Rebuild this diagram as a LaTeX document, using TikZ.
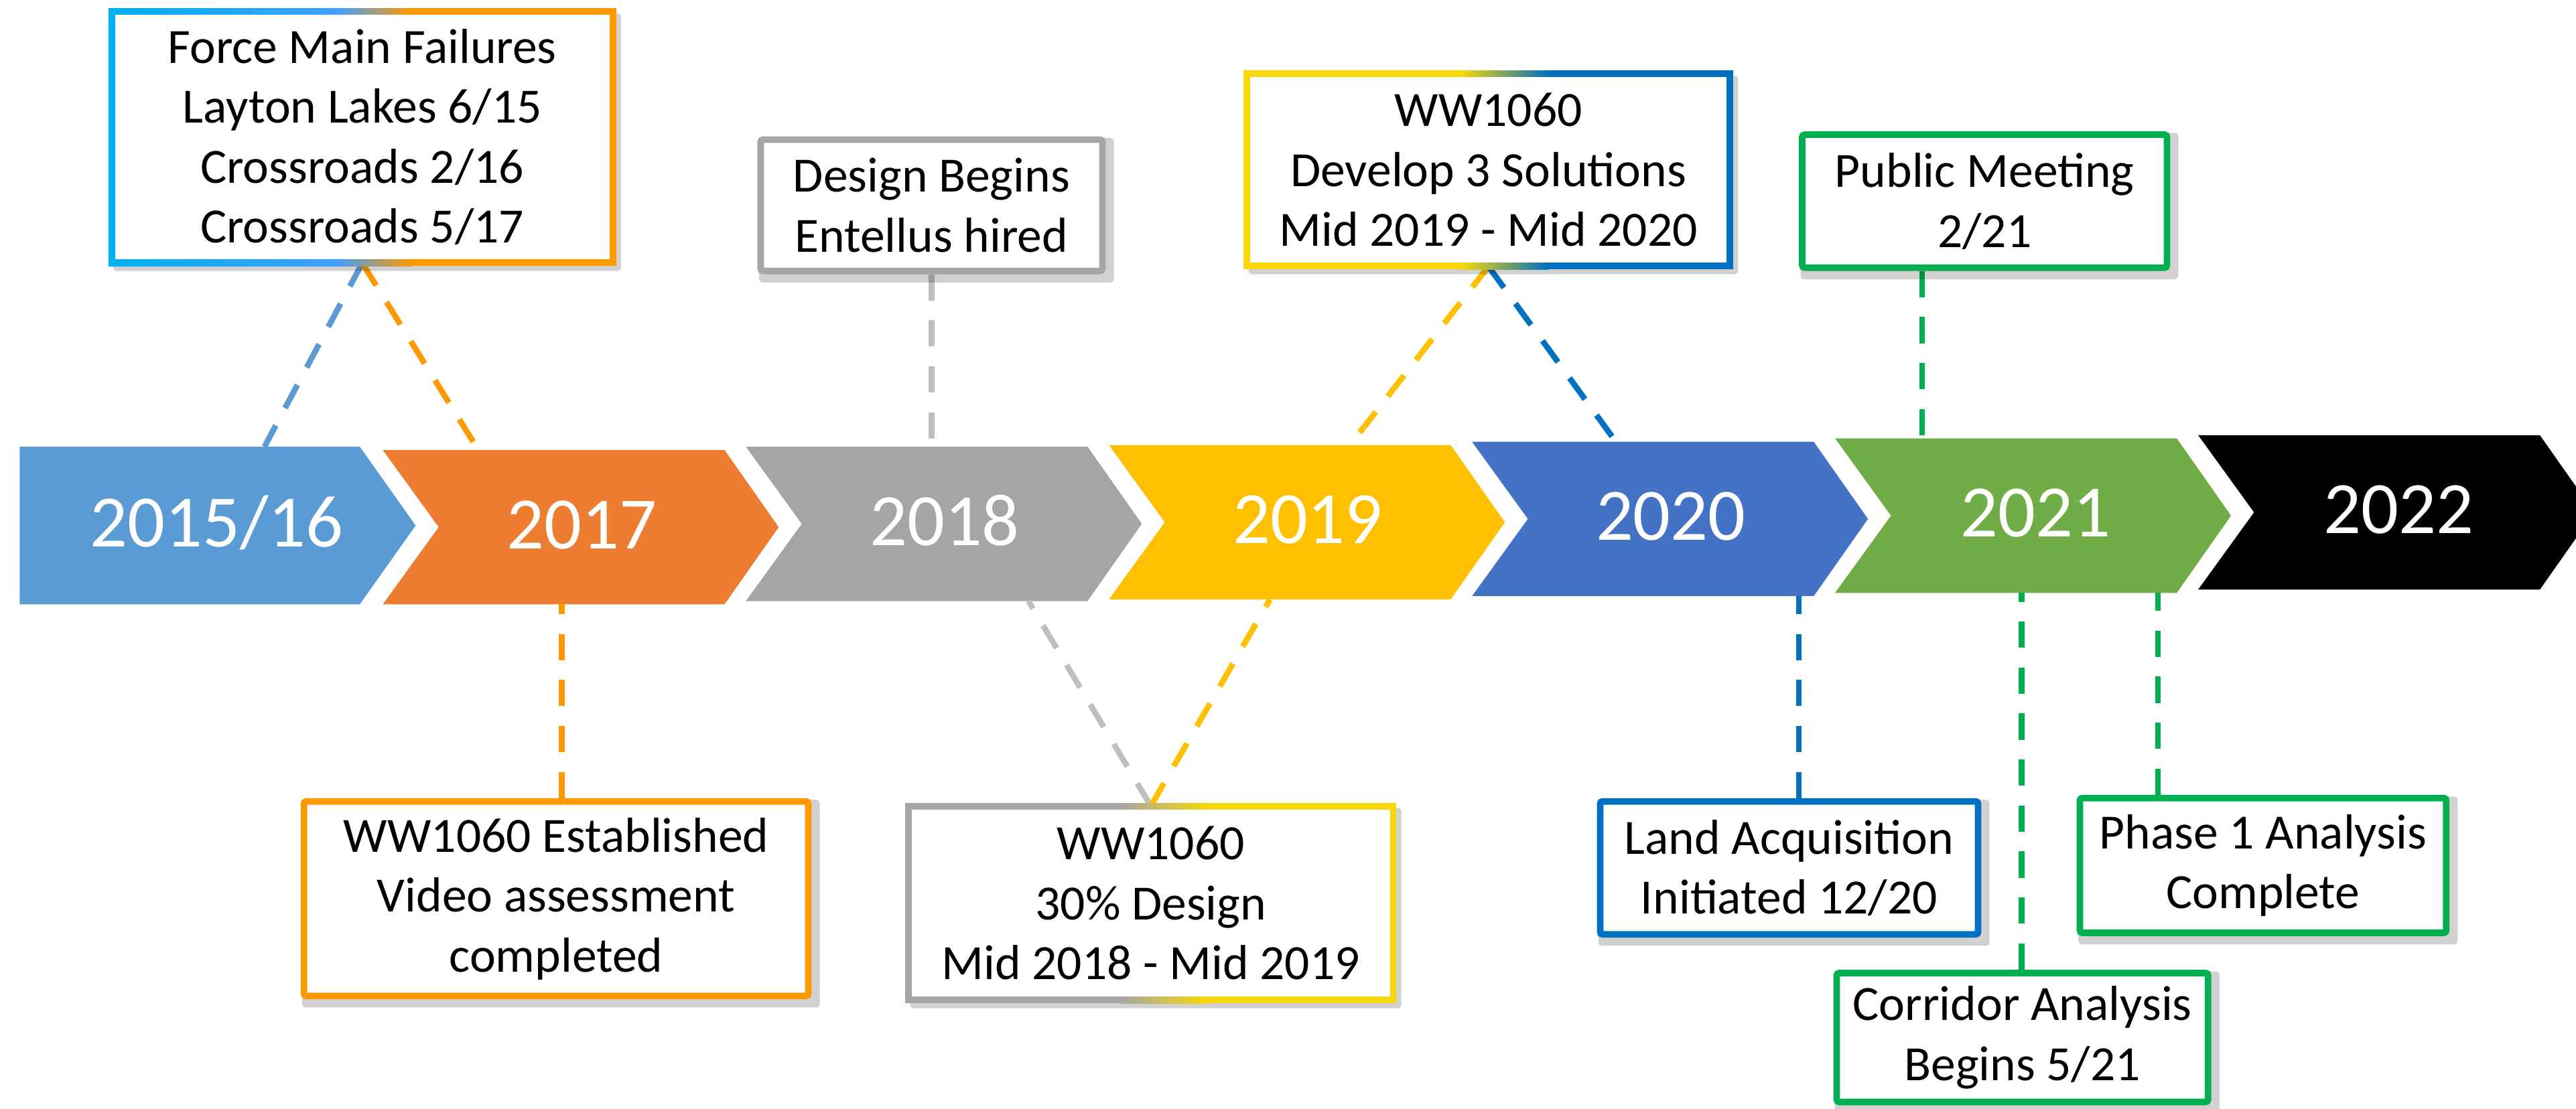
\documentclass[tikz,border=0pt]{standalone}
\usepackage{fontspec}
\setmainfont{Carlito}
\usetikzlibrary{calc}
\pgfdeclarelayer{bg}
\pgfdeclarelayer{conn}
\pgfdeclarelayer{frame}
\pgfsetlayers{bg,conn,frame,main}

\definecolor{chBlue}{HTML}{5B9BD5}
\definecolor{chOrange}{HTML}{ED7D31}
\definecolor{chGray}{HTML}{A5A5A5}
\definecolor{chYellow}{HTML}{FFC000}
\definecolor{chBlueB}{HTML}{4472C4}
\definecolor{chGreen}{HTML}{70AD47}
\definecolor{bxOrange}{HTML}{FF9900}
\definecolor{bxGray}{HTML}{A6A6A6}
\definecolor{bxYellow}{HTML}{F7D708}
\definecolor{bxBlue}{HTML}{0070C0}
\definecolor{bxGreen}{HTML}{00B050}
\definecolor{bxCyan}{HTML}{00B0F0}
\definecolor{bxSky}{HTML}{40A0FF}
\definecolor{lnGray}{HTML}{BFBFBF}

\tikzset{
  yeartext/.style={text=white, font=\fontsize{45}{54}\selectfont, anchor=base, inner sep=0pt},
  evbox/.style={align=center, font=\fontsize{30}{36.5}\selectfont, inner sep=0pt, fill=white, line width=4pt, rounded corners=1.5pt},
  gbox/.style={align=center, font=\fontsize{30}{36.5}\selectfont, inner sep=0pt},
  dashlink/.style={line width=3.5pt, dash pattern=on 16pt off 12pt},
  shadowbox/.style={fill=black, opacity=0.18, rounded corners=2pt},
}

\begin{document}
\begin{tikzpicture}[x=1pt,y=-1pt]
\useasboundingbox (0,0) rectangle (1568,675);

% ---------- chevrons ----------
\begin{pgfonlayer}{bg}
\fill[chBlue] (12,272) -- (219,272) -- (253,320) -- (219,368) -- (12,368) -- cycle;
\foreach \L/\T/\B/\c in {233/274/368/chOrange, 454/272/366/chGray, 675/271/365/chYellow, 896/269/363/chBlueB, 1117/267/361/chGreen}
  \fill[\c] (\L,\T) -- ({\L+208},\T) -- ({\L+241},{(\T+\B)/2}) -- ({\L+208},\B) -- (\L,\B) -- ({\L+34},{(\T+\B)/2}) -- cycle;
\fill[black] (1338,265) -- (1546,265) -- (1568,296.3) -- (1568,327.7) -- (1546,359) -- (1338,359) -- (1372,312) -- cycle;
\end{pgfonlayer}

\node[yeartext] (y1516) at (132,333) {2015/16};
\node[yeartext] (y2017) at (354,334) {2017};
\node[yeartext] (y2018) at (575,332) {2018};
\node[yeartext] (y2019) at (796,331) {2019};
\node[yeartext] (y2020) at (1017,329) {2020};
\node[yeartext] (y2021) at (1239,327) {2021};
\node[yeartext] (y2022) at (1460,325) {2022};

% ---------- event boxes ----------
\node[gbox, minimum width=305pt, minimum height=153pt] (fm) at (220.5,83.5)
  {Force Main Failures\\Layton Lakes 6/15\\Crossroads 2/16\\Crossroads 5/17};
\node[evbox, draw=bxGray, minimum width=208pt, minimum height=80pt] (design) at (567,125)
  {Design Begins\\Entellus hired};
\node[gbox, minimum width=294pt, minimum height=117pt] (dev) at (906,103.5)
  {WW1060\\Develop 3 Solutions\\Mid 2019 - Mid 2020};
\node[evbox, draw=bxGreen, minimum width=222pt, minimum height=81pt] (pub) at (1208,122.5)
  {Public Meeting\\2/21};
\node[evbox, draw=bxOrange, minimum width=307pt, minimum height=118.5pt] (est) at (338.5,547.25)
  {WW1060 Established\\Video assessment\\completed};
\node[gbox, minimum width=295pt, minimum height=118pt] (d30) at (700.5,550)
  {WW1060\\30\% Design\\Mid 2018 - Mid 2019};
\node[evbox, draw=bxBlue, minimum width=230pt, minimum height=81pt] (land) at (1089,528.5)
  {Land Acquisition\\Initiated 12/20};
\node[evbox, draw=bxGreen, minimum width=223pt, minimum height=82pt] (phase) at (1377.5,527)
  {Phase 1 Analysis\\Complete};
\node[evbox, draw=bxGreen, minimum width=226pt, minimum height=78.5pt] (corr) at (1231,631.75)
  {Corridor Analysis\\Begins 5/21};

% ---------- connector end points on the chevrons ----------
\coordinate (k1) at (161,272);
\coordinate (k2) at (293,277);
\coordinate (k3) at (567,272);
\coordinate (k4) at (821,272);
\coordinate (k5) at (985,271);
\coordinate (k6) at (1170,268);
\coordinate (k7) at (342,368);
\coordinate (k8) at (626,366);
\coordinate (k9) at (773,365);
\coordinate (k10) at (1095,363);
\coordinate (k11) at (1230.5,361);
\coordinate (k12) at (1313.5,361);

\begin{pgfonlayer}{conn}
\draw[dashlink, draw=chBlue] (fm.south) -- (k1);
\draw[dashlink, draw=bxOrange] (fm.south) -- (k2);
\draw[dashlink, draw=lnGray] (design.south) -- (k3);
\draw[dashlink, draw=chYellow] (dev.south) -- (k4);
\draw[dashlink, draw=bxBlue] (dev.south) -- (k5);
\draw[dashlink, draw=bxGreen] (k6 |- pub.south) -- (k6);
\draw[dashlink, draw=bxOrange] (k7 |- est.north) -- (k7);
\draw[dashlink, draw=lnGray] (d30.north) -- (k8);
\draw[dashlink, draw=chYellow] (d30.north) -- (k9);
\draw[dashlink, draw=bxBlue] (k10 |- land.north) -- (k10);
\draw[dashlink, draw=bxGreen] (k11 |- corr.north) -- (k11);
\draw[dashlink, draw=bxGreen] (k12 |- phase.north) -- (k12);
\end{pgfonlayer}

% ---------- shadows and gradient frames ----------
\begin{pgfonlayer}{frame}
\foreach \n in {design,pub,est,land,phase,corr}
  \fill[shadowbox] ($(\n.north west)+(1,1)$) rectangle ($(\n.south east)+(5,5)$);
\fill[shadowbox] (69,8) rectangle (378,165);
\fill[shadowbox] (760,46) rectangle (1058,167);
\fill[shadowbox] (554,492) rectangle (853,614);
% Force Main Failures frame
\shade[left color=bxCyan, right color=bxSky] (66,5) rectangle (205.5,162);
\shade[left color=bxSky, right color=bxOrange] (205,5) rectangle (250.5,162);
\fill[bxOrange] (250,5) rectangle (375,162);
\fill[white] (70,9) rectangle (371,158);
% WW1060 Develop frame
\fill[bxYellow] (757,43) rectangle (890.5,164);
\shade[left color=bxYellow, right color=bxBlue] (890,43) rectangle (942.5,164);
\fill[bxBlue] (942,43) rectangle (1055,164);
\fill[white] (761,47) rectangle (1051,160);
% WW1060 30% frame
\fill[bxGray] (551,489) rectangle (682.5,611);
\shade[left color=bxGray, right color=bxYellow] (682,489) rectangle (734.5,611);
\fill[bxYellow] (734,489) rectangle (850,611);
\fill[white] (555,493) rectangle (846,607);
\end{pgfonlayer}
\end{tikzpicture}
\end{document}
